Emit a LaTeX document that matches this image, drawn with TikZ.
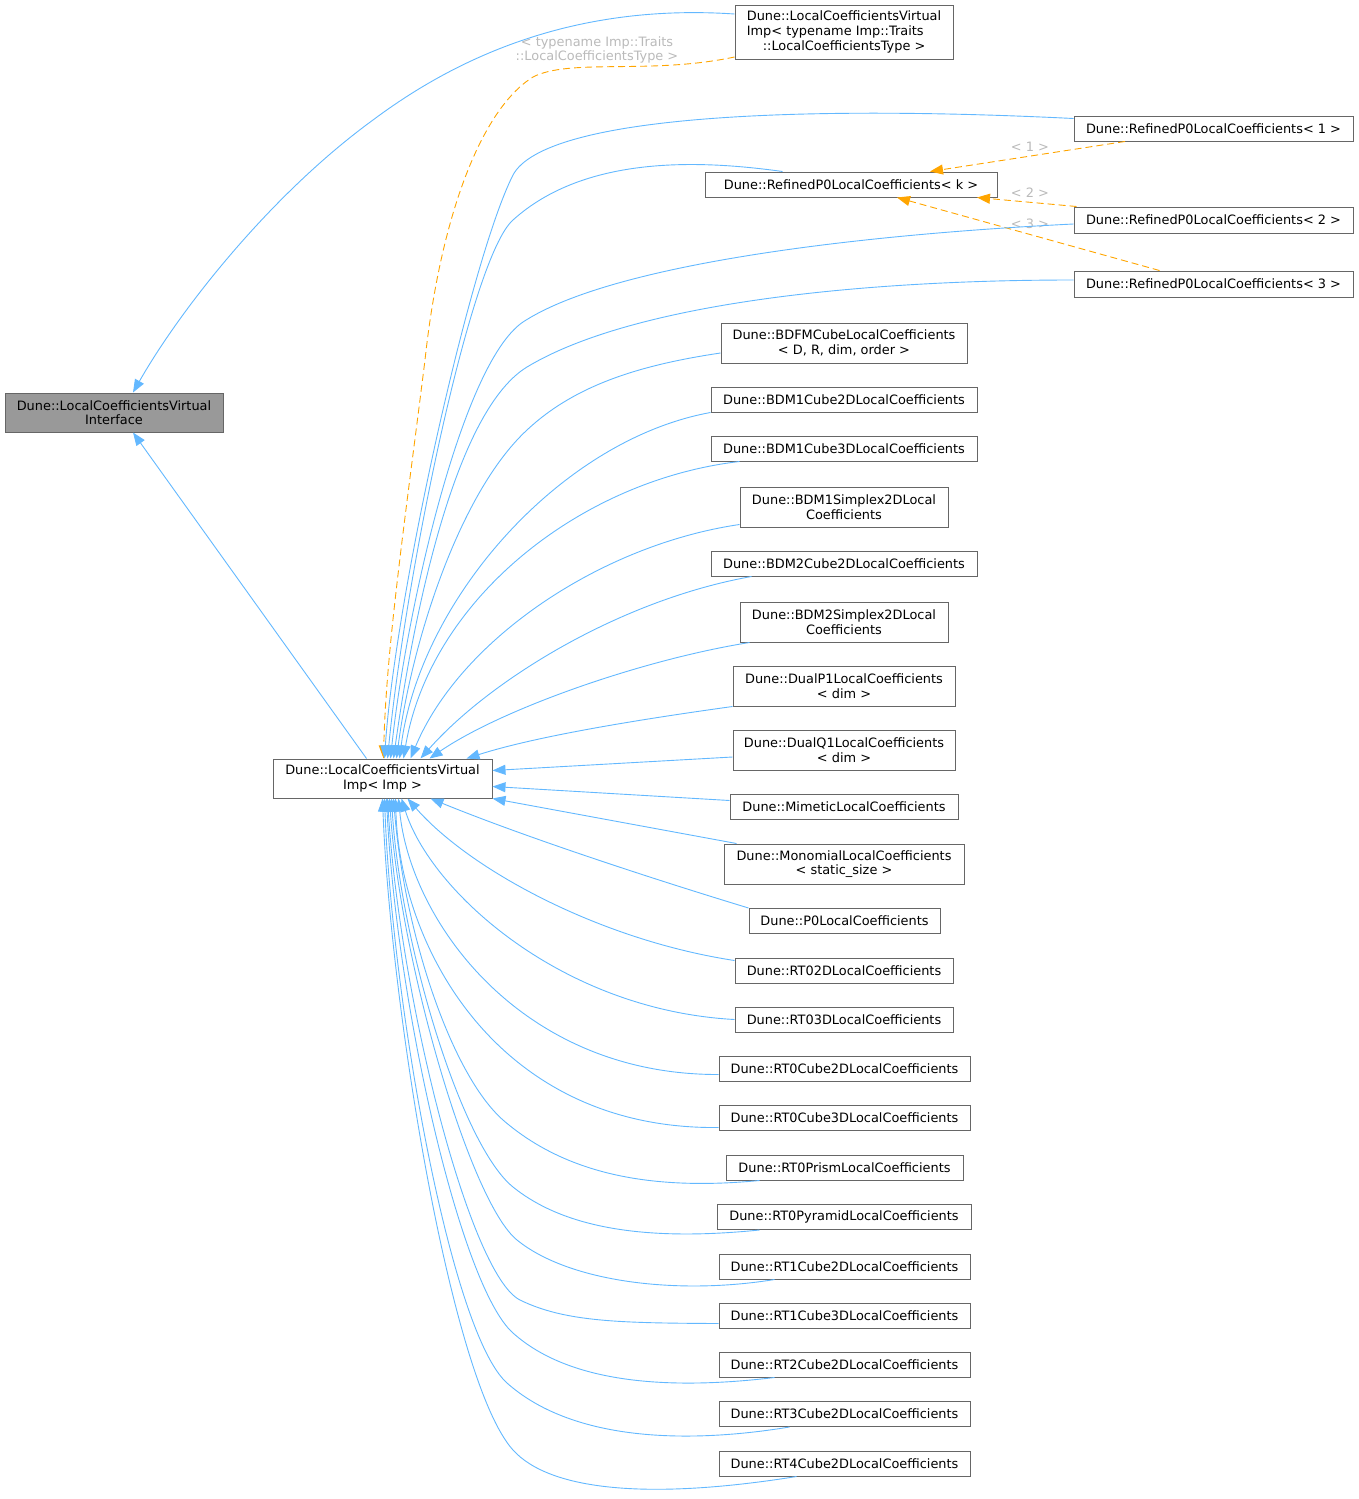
\documentclass[tikz,border=0pt]{standalone}
\usepackage{fontspec}
\newfontfamily\dvsans{DejaVu Sans}
\usetikzlibrary{arrows.meta}
\definecolor{steelblue}{HTML}{63B8FF}
\definecolor{boxgray}{HTML}{666666}
\definecolor{ifacegray}{HTML}{999999}
\definecolor{tplorange}{HTML}{FFA500}
\tikzset{cls/.style={draw=boxgray, fill=white, line width=1pt, inner sep=0pt, minimum height=25, font=\dvsans\fontsize{12.9}{14.6}\selectfont, align=center, text=black},
    inh/.style={draw=steelblue, line width=0.9pt, -{Triangle[length=13pt,width=10pt]}},
    tmpl/.style={draw=tplorange, line width=0.9pt, dash pattern=on 7pt off 4pt, -{Triangle[length=13pt,width=10pt]}},
    lbl/.style={text=black!27, inner sep=0pt, font=\dvsans\fontsize{12.9}{14.6}\selectfont, align=center}}

\begin{document}
\begin{tikzpicture}[x=1pt,y=-1pt]
                      \useasboundingbox (0,0) rectangle (1359,1499);
                      \node[cls, minimum width=218, minimum height=39, fill=ifacegray](iface) at (114,412.5) {Dune::LocalCoefficientsVirtual\\Interface};
                      \node[cls, minimum width=219, minimum height=39](imp) at (382.5,778.5) {Dune::LocalCoefficientsVirtual\\Imp< Imp >};
                      \node[cls, minimum width=218, minimum height=54, align=left](vtype) at (844,32) {Dune::LocalCoefficientsVirtual\\Imp< typename Imp::Traits\\\hspace*{16pt}::LocalCoefficientsType >};
                      
                      \node[cls, minimum width=292](refk) at (851,184.5) {Dune::RefinedP0LocalCoefficients< k >};
                      \node[cls, minimum width=279](ref1) at (1213.5,128.5) {Dune::RefinedP0LocalCoefficients< 1 >};
                      \node[cls, minimum width=279, minimum height=26](ref2) at (1213.5,220) {Dune::RefinedP0LocalCoefficients< 2 >};
                      \node[cls, minimum width=279, minimum height=26](ref3) at (1213.5,284) {Dune::RefinedP0LocalCoefficients< 3 >};
                      
                      \node[cls, minimum width=246, minimum height=40](bdfm) at (844,343) {Dune::BDFMCubeLocalCoefficients\\< D, R, dim, order >};
                      \node[cls, minimum width=266](bdmca) at (844,399.5) {Dune::BDM1Cube2DLocalCoefficients};
                      \node[cls, minimum width=266](bdmcb) at (844,448.5) {Dune::BDM1Cube3DLocalCoefficients};
                      \node[cls, minimum width=208, minimum height=40](bdms1) at (844,507) {Dune::BDM1Simplex2DLocal\\Coefficients};
                      \node[cls, minimum width=266](bdmc2) at (844,563.5) {Dune::BDM2Cube2DLocalCoefficients};
                      \node[cls, minimum width=208, minimum height=40](bdms2) at (844,622) {Dune::BDM2Simplex2DLocal\\Coefficients};
                      \node[cls, minimum width=222, minimum height=40](dualp) at (844,686) {Dune::DualP1LocalCoefficients\\< dim >};
                      \node[cls, minimum width=222, minimum height=40](dualq) at (844,750) {Dune::DualQ1LocalCoefficients\\< dim >};
                      \node[cls, minimum width=228](mimetic) at (844,806.5) {Dune::MimeticLocalCoefficients};
                      \node[cls, minimum width=240, minimum height=40](monomial) at (844,864) {Dune::MonomialLocalCoefficients\\< static\_size >};
                      \node[cls, minimum width=191](pzero) at (844.5,921) {Dune::P0LocalCoefficients};
                      \node[cls, minimum width=218](rtza) at (844,970.5) {Dune::RT02DLocalCoefficients};
                      \node[cls, minimum width=218](rtzb) at (844,1019.5) {Dune::RT03DLocalCoefficients};
                      \node[cls, minimum width=251](rtcubea) at (844.5,1068.5) {Dune::RT0Cube2DLocalCoefficients};
                      \node[cls, minimum width=251](rtcubeb) at (844.5,1117.5) {Dune::RT0Cube3DLocalCoefficients};
                      \node[cls, minimum width=237](rtprism) at (844.5,1167.5) {Dune::RT0PrismLocalCoefficients};
                      \node[cls, minimum width=254](rtpyr) at (844,1217) {Dune::RT0PyramidLocalCoefficients};
                      \node[cls, minimum width=251](rtonea) at (844.5,1266.5) {Dune::RT1Cube2DLocalCoefficients};
                      \node[cls, minimum width=251](rtoneb) at (844.5,1315.5) {Dune::RT1Cube3DLocalCoefficients};
                      \node[cls, minimum width=251](rttwo) at (844.5,1364.5) {Dune::RT2Cube2DLocalCoefficients};
                      \node[cls, minimum width=251](rtthree) at (844.5,1414) {Dune::RT3Cube2DLocalCoefficients};
                      \node[cls, minimum width=251](rtfour) at (844.5,1463.5) {Dune::RT4Cube2DLocalCoefficients};
                      
                      \node[lbl](tlbl) at (597,50) {< typename Imp::Traits\\::LocalCoefficientsType >};
                      \node[lbl](lone) at (1030,147) {< 1 >};
                      \node[lbl](ltwo) at (1030,193) {< 2 >};
                      \node[lbl](lthree) at (1030,224) {< 3 >};
                      
                      \draw[inh]([yshift=18]vtype.west) .. controls (600,5) and (480,40) .. (373,120) .. controls (270,195) and (180,310) .. ([xshift=19]iface.north);
                      \draw[inh]([xshift=-16]imp.north)--([xshift=19]iface.south);
                      \draw[tmpl]([yshift=-25]vtype.west) .. controls (650,75) and (570,58) .. (533,77) .. controls (480,110) and (440,220) .. (425,360) .. controls (405,520) and (386,650) .. ([xshift=1]imp.north);
                      
                      \draw[tmpl]([xshift=-88.5]ref1.south)--([xshift=79]refk.north);
                      \draw[tmpl]([xshift=3]ref2.north west)--([xshift=126]refk.south);
                      \draw[tmpl]([xshift=-54]ref3.north)--([xshift=46]refk.south);
                      
                      \draw[inh]([yshift=-3]ref1.north west) .. controls (800,105) and (545,115) .. (513,175) .. controls (470,260) and (395,600) .. ([xshift=2]imp.north);
                      \draw[inh]([xshift=78]refk.north west) .. controls (700,160) and (585,155) .. (513,220) .. controls (470,258) and (405,580) .. ([xshift=5]imp.north);
                      \draw[inh]([yshift=-4]ref2.west) .. controls (850,235) and (610,265) .. (523,322) .. controls (460,365) and (405,620) .. ([xshift=8]imp.north);
                      \draw[inh]([yshift=4]ref3.west) .. controls (850,280) and (630,305) .. (527,367) .. controls (450,414) and (410,640) .. ([xshift=11]imp.north);
                      \draw[inh]([yshift=-10]bdfm.west) .. controls (640,365) and (575,385) .. (527,430) .. controls (460,492) and (412,640) .. ([xshift=14]imp.north);
                      \draw[inh](bdmca.south west) .. controls (560,440) and (420,600) .. ([xshift=17]imp.north);
                      \draw[inh]([xshift=29]bdmcb.south west) .. controls (580,480) and (430,600) .. ([xshift=21]imp.north);
                      \draw[inh]([yshift=3]bdms1.south west) .. controls (600,545) and (460,640) .. ([xshift=28]imp.north);
                      \draw[inh]([xshift=41]bdmc2.south west) .. controls (620,600) and (490,680) .. ([xshift=38]imp.north);
                      \draw[inh]([xshift=10]bdms2.south west) .. controls (640,660) and (500,710) .. ([xshift=47]imp.north);
                      \draw[inh](dualp.south west) .. controls (650,718) and (540,735) .. ([xshift=84]imp.north);
                      \draw[inh]([yshift=-7]dualq.west)--([yshift=8]imp.east);
                      \draw[inh]([yshift=6]mimetic.west)--([yshift=-8]imp.east);
                      \draw[inh]([xshift=13]monomial.north west)--(imp.south east);
                      \draw[inh](pzero.north west) .. controls (640,875) and (520,835) .. ([xshift=48]imp.south);
                      \draw[inh]([yshift=10]rtza.west) .. controls (600,940) and (470,870) .. ([xshift=25]imp.south);
                      \draw[inh](rtzb.west) .. controls (560,1010) and (430,890) .. ([xshift=19]imp.south);
                      \draw[inh]([yshift=-6]rtcubea.west) .. controls (520,1075) and (410,920) .. ([xshift=16]imp.south);
                      \draw[inh]([yshift=-10]rtcubeb.west) .. controls (500,1130) and (400,950) .. ([xshift=13]imp.south);
                      \draw[inh]([xshift=34]rtprism.south west) .. controls (660,1190) and (570,1178) .. (503,1120) .. controls (450,1073) and (404,930) .. ([xshift=11]imp.south);
                      \draw[inh]([xshift=43]rtpyr.south west) .. controls (660,1240) and (570,1233) .. (513,1187) .. controls (460,1144) and (400,940) .. ([xshift=9]imp.south);
                      \draw[inh]([xshift=56]rtonea.south west) .. controls (680,1295) and (570,1283) .. (517,1240) .. controls (470,1202) and (400,960) .. ([xshift=7]imp.south);
                      \draw[inh]([yshift=-8]rtoneb.west) .. controls (620,1323) and (565,1322) .. (520,1300) .. controls (470,1275) and (400,1000) .. ([xshift=5]imp.south);
                      \draw[inh]([xshift=56]rttwo.south west) .. controls (670,1390) and (570,1384) .. (513,1333) .. controls (460,1286) and (396,1000) .. ([xshift=4]imp.south);
                      \draw[inh]([xshift=71]rtthree.south west) .. controls (680,1445) and (570,1439) .. (507,1383) .. controls (450,1332) and (392,1000) .. ([xshift=2]imp.south);
                      \draw[inh]([xshift=78]rtfour.south west) .. controls (650,1500) and (550,1491) .. (513,1450) .. controls (450,1380) and (390,1000) .. (imp.south);
             \end{tikzpicture}
\end{document}
